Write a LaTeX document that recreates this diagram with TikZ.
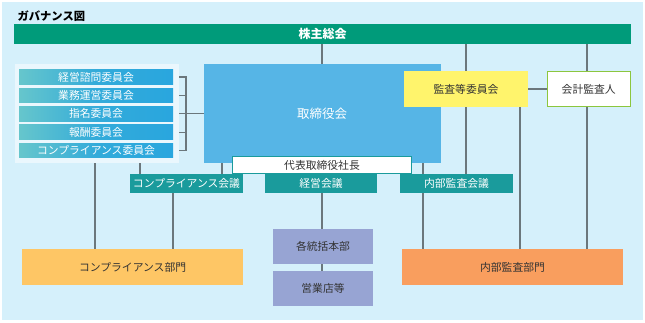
\documentclass[tikz,border=0pt]{standalone}
\usepackage{fontspec}
\setmainfont{Noto Sans CJK JP}
\pgfdeclarelayer{bottom}
\pgfdeclarelayer{background}
\pgfsetlayers{bottom,background,main}
\definecolor{bgc}{HTML}{D5F0FB}
\definecolor{gmc}{HTML}{009B7A}
\definecolor{panelc}{HTML}{EAF7FD}
\definecolor{cmtl}{HTML}{66C6CC}
\definecolor{cmtm}{HTML}{33ABDA}
\definecolor{cmtr}{HTML}{29A6DE}
\definecolor{boardc}{HTML}{56B5E6}
\definecolor{yelc}{HTML}{FFF46C}
\definecolor{grnb}{HTML}{8CC63E}
\definecolor{tealc}{HTML}{1A9B9C}
\definecolor{cdc}{HTML}{FEC665}
\definecolor{iac}{HTML}{F99E5E}
\definecolor{lavc}{HTML}{97A4D3}
\definecolor{linec}{HTML}{6B777C}
\definecolor{txtc}{HTML}{333333}
\begin{document}
\begin{tikzpicture}[x=1pt,y=-1pt,
  box/.style={inner sep=0pt,outer sep=0pt,font=\fontsize{10.8}{12}\selectfont,text=txtc},
  cmt/.style={box,left color=cmtl,right color=cmtr,middle color=cmtm,text=white,minimum width=154pt,minimum height=14.5pt},
  meet/.style={box,fill=tealc,text=white,minimum width=113pt,minimum height=18.5pt},
  conn/.style={draw=linec,line width=1.3pt}]
\useasboundingbox (0,0) rectangle (645,322);
\begin{pgfonlayer}{bottom}
\fill[white] (0,0) rectangle (645,322);
\fill[bgc] (2,2) rectangle (642.5,319.5);
\end{pgfonlayer}
\node[anchor=west,font=\fontsize{11.3}{13}\selectfont\bfseries,text=black] (title) at (14,16) {ガバナンス図};
% coordinates for vertical lines
\coordinate (x95) at (95,0);
\coordinate (x140) at (140,0);
\coordinate (x173) at (173,0);
\coordinate (x222) at (222,0);
\coordinate (x322) at (322,0);
\coordinate (x423) at (423,0);
\coordinate (x466) at (466,0);
\coordinate (x520) at (520,0);
\coordinate (x587) at (587,0);
\coordinate (xbr) at (186,0);
% boxes
\node[box,fill=gmc,minimum width=617pt,minimum height=20pt,text=white,font=\fontsize{12}{13}\selectfont\bfseries] (gm) at (322.5,34) {株主総会};
\node[box,fill=panelc,minimum width=164pt,minimum height=99pt] (panel) at (97,113.5) {};
\node[cmt] (c1) at (96,77) {経営諮問委員会};
\node[cmt] (c2) at (96,95.4) {業務運営委員会};
\node[cmt] (c3) at (96,113.8) {指名委員会};
\node[cmt] (c4) at (96,132.2) {報酬委員会};
\node[cmt] (c5) at (96,150.6) {コンプライアンス委員会};
\node[box,fill=boardc,minimum width=237pt,minimum height=99pt] (board) at (322.5,113.5) {};
\node[box,text=white,font=\fontsize{12.5}{14}\selectfont] (boardlbl) at (322,113.5) {取締役会};
\node[box,fill=yelc,minimum width=124pt,minimum height=36pt] (ac) at (466,89) {監査等委員会};
\node[box,fill=white,draw=grnb,line width=1.4pt,minimum width=83pt,minimum height=35pt] (aud) at (588.7,89) {会計監査人};
\node[box,fill=white,draw=tealc,line width=1pt,minimum width=179pt,minimum height=17.5pt] (pres) at (322,165) {代表取締役社長};
\node[meet] (cm) at (186.5,183.25) {コンプライアンス会議};
\node[meet,minimum width=112pt] (mm) at (321,183.25) {経営会議};
\node[meet] (im) at (456.5,183.25) {内部監査会議};
\node[box,fill=cdc,minimum width=220.7pt,minimum height=35.7pt] (cd) at (132.6,267.2) {コンプライアンス部門};
\node[box,fill=iac,minimum width=220.4pt,minimum height=35.7pt] (id) at (512.5,267.2) {内部監査部門};
\node[box,fill=lavc,minimum width=100pt,minimum height=35pt] (hq) at (323,246.5) {各統括本部};
\node[box,fill=lavc,minimum width=100pt,minimum height=35pt] (br) at (323,288.5) {営業店等};
% connectors (behind boxes)
\begin{pgfonlayer}{background}
\draw[conn] (gm.south -| x322) -- (board.north -| x322);
\draw[conn] (gm.south -| x466) -- (im.north -| x466);
\draw[conn] (gm.south -| x587) -- (id.north -| x587);
\draw[conn] (ac.south -| x520) -- (id.north -| x520);
\draw[conn] (ac.east) -- (aud.west);
\draw[conn] (c5.south -| x95) -- (cd.north -| x95);
\draw[conn] (c5.south -| x140) -- (cm.north -| x140);
\draw[conn] (cm.south -| x173) -- (cd.north -| x173);
\draw[conn] (board.south -| x222) -- (cm.north -| x222);
\draw[conn] (board.south -| x423) -- (im.north -| x423);
\draw[conn] (im.south -| x423) -- (id.north -| x423);
\draw[conn] (mm.south -| x322) -- (hq.north -| x322);
\draw[conn] (hq.south -| x322) -- (br.north -| x322);
\draw[conn] (c1.east) -- (c1.east -| xbr) -- (c5.east -| xbr) -- (c5.east);
\draw[conn] (c2.east) -- (c2.east -| xbr);
\draw[conn] (c3.east) -- (c3.east -| xbr);
\draw[conn] (c4.east) -- (c4.east -| xbr);
\draw[conn] (board.west |- c3.east) -- (c3.east -| xbr);
\end{pgfonlayer}
\end{tikzpicture}
\end{document}
